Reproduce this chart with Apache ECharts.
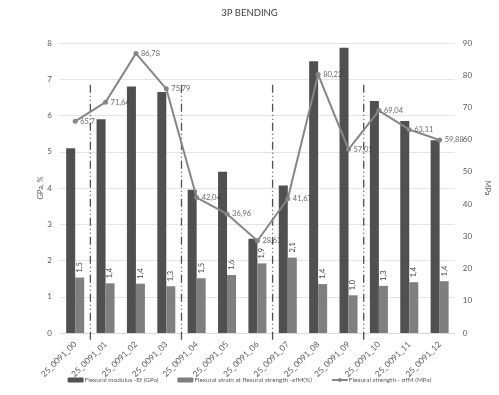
<!DOCTYPE html>
<html>
<head>
<meta charset="utf-8">
<script src="https://cdn.jsdelivr.net/npm/echarts@6/dist/echarts.min.js"></script>
<style>
html,body{margin:0;padding:0;background:#fff;}
#chart{width:499px;height:395px;}
</style>
</head>
<body>
<div id="chart"></div>
<script>
const categories = ['25_0091_00','25_0091_01','25_0091_02','25_0091_03','25_0091_04','25_0091_05','25_0091_06','25_0091_07','25_0091_08','25_0091_09','25_0091_10','25_0091_11','25_0091_12'];
const modulusGPa = [5.1, 5.9, 6.8, 6.65, 3.95, 4.45, 2.6, 4.07, 7.5, 7.87, 6.4, 5.85, 5.32];
const strainPct = [1.53, 1.37, 1.36, 1.29, 1.51, 1.6, 1.92, 2.08, 1.35, 1.04, 1.3, 1.4, 1.43];
const strengthMPa = [65.7, 71.64, 86.78, 75.79, 42.04, 36.96, 28.63, 41.67, 80.22, 57.01, 69.04, 63.11, 59.88];
const dividerBefore = [1, 4, 7, 10];
const dividerTop = 6.85;
const dividerBottom = -0.25;
const seriesNames = ['Flexural modulus -Ef (GPa)', 'Flexural strain at flexural strength -εfM(%)', 'Flexural strength - σfM (MPa)'];

const FONT = 'Lato';
const comma = v => String(v).replace('.', ',');

const chart = echarts.init(document.getElementById('chart'), null, {renderer: 'canvas'});
chart.setOption({
  animation: false,
  backgroundColor: '#ffffff',
  textStyle: {fontFamily: FONT},
  title: {
    text: '3P BENDING',
    left: 'center',
    top: 3,
    textStyle: {fontSize: 9.5, fontWeight: 'normal', color: '#404040', fontFamily: FONT}
  },
  grid: {left: 60, right: 26, top: 43, bottom: 62},
  legend: {
    data: seriesNames,
    bottom: 7,
    left: 'center',
    itemWidth: 16,
    itemHeight: 5,
    itemGap: 19,
    textStyle: {fontSize: 6.4, color: '#595959', fontFamily: FONT, padding: [0,0,0,-4]}
  },
  xAxis: {
    type: 'category',
    data: categories,
    axisLine: {lineStyle: {color: '#d9d9d9'}},
    axisTick: {show: false},
    axisLabel: {rotate: 45, fontSize: 8.3, color: '#595959', margin: 10, interval: 0, fontFamily: FONT}
  },
  yAxis: [
    {
      type: 'value', min: 0, max: 8, interval: 1,
      name: 'GPa, %', nameLocation: 'middle', nameGap: 15, nameMoveOverlap: false,
      nameTextStyle: {fontSize: 7.5, color: '#595959', fontFamily: FONT},
      axisLine: {show: false}, axisTick: {show: false},
      axisLabel: {fontSize: 8, color: '#595959', margin: 8, fontFamily: FONT},
      splitLine: {lineStyle: {color: '#e3e3e3'}}
    },
    {
      type: 'value', min: 0, max: 90, interval: 10,
      name: 'MPa', nameLocation: 'middle', nameGap: 16, nameRotate: -90,
      nameTextStyle: {fontSize: 7.5, color: '#595959', fontFamily: FONT},
      axisLine: {show: false}, axisTick: {show: false},
      axisLabel: {fontSize: 8, color: '#595959', margin: 8, fontFamily: FONT},
      splitLine: {show: false}
    }
  ],
  series: [
    {
      name: seriesNames[0], type: 'bar', data: modulusGPa,
      barWidth: 9, barGap: '0%', z: 1,
      itemStyle: {color: '#505050'}
    },
    {
      name: seriesNames[1], type: 'bar', data: strainPct,
      barWidth: 9, z: 1,
      itemStyle: {color: '#7f7f7f'},
      label: {
        show: true, position: 'top', rotate: 90, align: 'left', verticalAlign: 'middle',
        distance: 4, fontSize: 7.5, color: '#404040', fontFamily: FONT,
        backgroundColor: '#ffffff', padding: [0, 1],
        formatter: p => comma(p.value.toFixed(1))
      }
    },
    {
      name: seriesNames[2], type: 'line', yAxisIndex: 1, data: strengthMPa,
      smooth: false, clip: false,
      symbol: 'circle', symbolSize: 5,
      lineStyle: {color: '#868686', width: 2},
      itemStyle: {color: '#868686'},
      zlevel: 1, z: 10
    },
    {
      name: 'strengthLabels', type: 'scatter', yAxisIndex: 1, data: strengthMPa,
      symbolSize: 0, clip: false, silent: true,
      label: {
        show: true, position: 'right', distance: 5, fontSize: 7.5, color: '#404040', fontFamily: FONT,
        overflow: 'none',
        formatter: p => comma(p.value)
      },
      labelLayout: {hideOverlap: false},
      zlevel: 2, z: 20
    },
    {
      name: 'dividers', type: 'custom', yAxisIndex: 0,
      data: dividerBefore.map(i => [i, dividerTop, dividerBottom]),
      silent: true, z: 4,
      renderItem: (params, api) => {
        const half = api.size([1, 0])[0] / 2;
        const p1 = api.coord([api.value(0), api.value(1)]);
        const p2 = api.coord([api.value(0), api.value(2)]);
        const x = p1[0] - half;
        return {
          type: 'line',
          shape: {x1: x, y1: p1[1], x2: x, y2: p2[1]},
          style: {stroke: '#505050', lineWidth: 1.3, lineDash: [8, 3, 1, 3, 1, 3]}
        };
      }
    }
  ]
});
</script>
</body>
</html>
